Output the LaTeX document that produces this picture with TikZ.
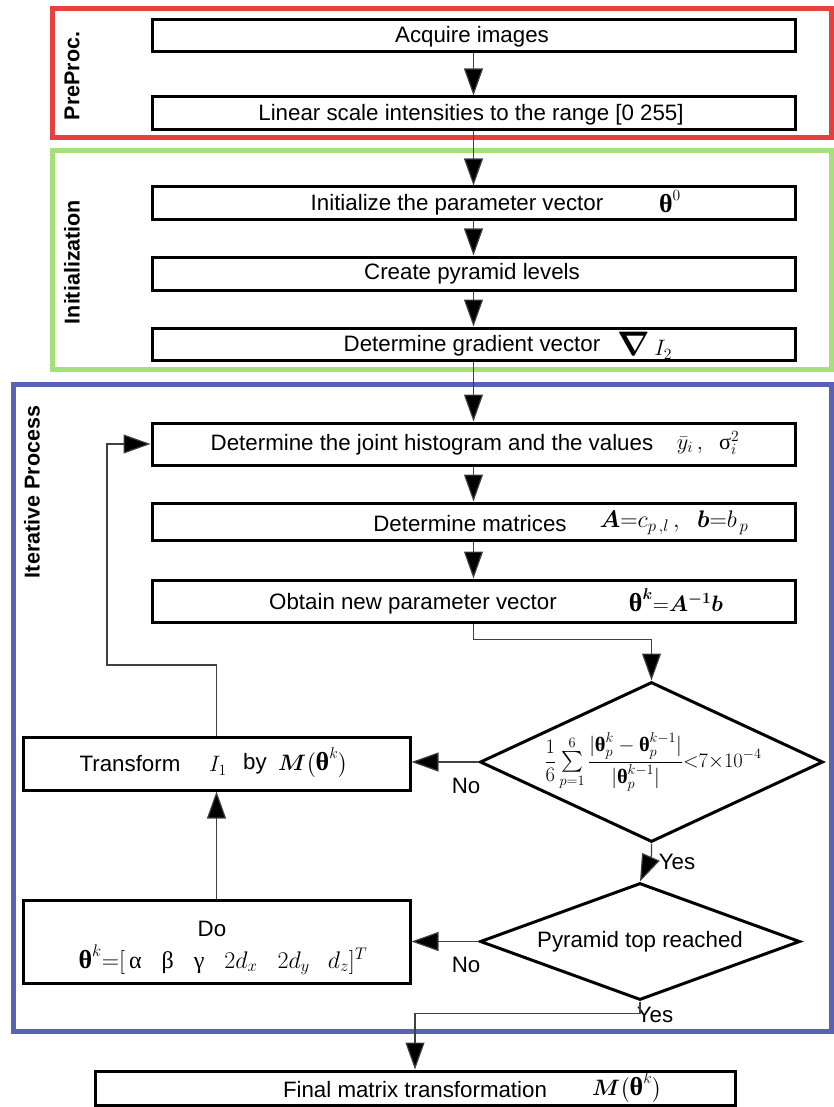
\RequirePackage{fix-cm}
\documentclass[tikz,border=0pt]{standalone}
\usepackage{amsmath}
\usepackage{bm}
\usepackage{fontspec}
\setmainfont{Liberation Sans}
\newfontfamily\symf{Liberation Serif}
\usetikzlibrary{arrows.meta,shapes.geometric}
\newcommand\thb{\mbox{\symf\bfseries\fontsize{26}{26}\selectfont θ}}
\newcommand\ths{\mbox{\symf\bfseries θ}}
\newcommand\gr[1]{\mbox{\symf #1}}
\definecolor{fred}{HTML}{E8403F}
\definecolor{fgreen}{HTML}{A6E07A}
\definecolor{fblue}{HTML}{5A62B6}
\begin{document}
\begin{tikzpicture}[x=1pt,y=-1pt,
  box/.style={draw, line width=3pt, inner sep=0pt},
  txt/.style={font=\fontsize{22.3}{25}\selectfont, inner sep=0pt, anchor=center},
  lab/.style={font=\fontsize{21.5}{24}\selectfont\bfseries, inner sep=0pt, rotate=90},
  frame/.style={line width=5pt},
  conn/.style={line width=1.2pt, draw=black!75, -{Triangle[length=27pt,width=19pt,fill=black]}},
  dia/.style={diamond, draw, line width=3pt, inner sep=0pt}
]
\useasboundingbox (0,0) rectangle (834,1107);
% frames
\draw[frame, fred] (52,9) rectangle (831,138);
\draw[frame, fgreen] (52,151) rectangle (831,369);
\draw[frame, fblue] (13,384) rectangle (831,1031);
\node[lab] (lpre) at (72,76) {PreProc.};
\node[lab] (linit) at (72,262) {Initialization};
\node[lab] (liter) at (32,492) {Iterative Process};
% boxes
\node[box, minimum width=643pt, minimum height=32pt] (b1) at (473.5,36) {};
\node[box, minimum width=643pt, minimum height=33pt] (b2) at (473.5,113.5) {};
\node[box, minimum width=643pt, minimum height=33pt] (b3) at (473.5,203.5) {};
\node[box, minimum width=643pt, minimum height=33pt] (b4) at (473.5,273.5) {};
\node[box, minimum width=643pt, minimum height=32pt] (b5) at (473.5,344) {};
\node[box, minimum width=643pt, minimum height=42pt] (b6) at (473.5,444) {};
\node[box, minimum width=643pt, minimum height=37pt] (b7) at (473.5,521.5) {};
\node[box, minimum width=643pt, minimum height=42pt] (b8) at (473.5,601) {};
\node[box, minimum width=387pt, minimum height=53pt] (b9) at (216.5,763.5) {};
\node[box, minimum width=387pt, minimum height=83pt] (b10) at (216.5,941.5) {};
\node[box, minimum width=640pt, minimum height=34pt] (fin) at (415,1088) {};
\node[dia, minimum width=343pt, minimum height=160pt] (d1) at (651.5,762) {};
\node[dia, minimum width=320pt, minimum height=117pt] (d2) at (640,941.5) {};
% texts
\node[txt] (t1) at (472,37) {Acquire images};
\node[txt] (t2) at (471,115) {Linear scale intensities to the range [0 255]};
\node[txt] (t3) at (457,205) {Initialize the parameter vector};
\node[txt] (m3) at (670,202) {$\thb^{0}$};
\node[txt] (t4) at (472,274) {Create pyramid levels};
\node[txt] (t5) at (472,346) {Determine gradient vector};
\node[txt] (m5) at (645,346) {{\fontsize{34}{34}\selectfont$\boldsymbol{\nabla}$}\,$I_{2}$};
\node[txt] (t6) at (432,445) {Determine the joint histogram and the values};
\node[txt] (m6) at (708,443) {$\bar{y}_{i}\,,\;\;\gr{σ}_{i}^{2}$};
\node[txt, font=\fontsize{24}{26}\selectfont] (m7) at (674,523) {$\bm{A}{=}c_{p\,,l}\,,\;\;\bm{b}{=}b_{\,p}$};
\node[txt] (t7) at (470,524) {Determine matrices};
\node[txt] (t8) at (413,604) {Obtain new parameter vector};
\node[txt] (m8) at (676,600) {$\thb^{\bm{k}}{=}\bm{A}^{\bm{-1}}\bm{b}$};
\node[txt] (t9) at (130,764) {Transform};
\node[txt] (m9a) at (218,766) {$I_{1}$};
\node[txt] (t9b) at (255,764) {by};
\node[txt] (m9b) at (313,763) {$\bm{M}\big(\thb^{k}\big)$};
\node[txt] (t10) at (212,929) {Do};
\node[txt, font=\fontsize{24}{26}\selectfont] (m10) at (223,960) {$\thb^{k}{=}[\,\gr{α}\hspace{20pt}\gr{β}\hspace{20pt}\gr{γ}\hspace{20pt}2d_{x}\hspace{20pt}2d_{y}\hspace{18pt}d_{z}]^{T}$};
\node[txt, font=\fontsize{20.5}{23}\selectfont] (md1) at (653,762) {$\displaystyle\frac{1}{6}\,{\textstyle\sum\limits_{p=1}^{6}}\,\frac{|\ths_{p}^{k}-\ths_{p}^{k-1}|}{|\ths_{p}^{k-1}|}{<}7{\times}10^{-4}$};
\node[txt] (td2) at (640,942) {Pyramid top reached};
\node[txt] (tf) at (415,1090) {Final matrix transformation};
\node[txt] (mf) at (627,1088) {$\bm{M}\big(\thb^{k}\big)$};
% connector labels
\node[txt] (no1) at (466,786) {No};
\node[txt] (yes1) at (677,862) {Yes};
\node[txt] (no2) at (466,965) {No};
\node[txt] (yes2) at (655,1015) {Yes};
% connectors
\draw[conn] (b1) -- (b2);
\draw[conn] (b2) -- (b3);
\draw[conn] (b3) -- (b4);
\draw[conn] (b4) -- (b5);
\draw[conn] (b5) -- (b6);
\draw[conn] (b6) -- (b7);
\draw[conn] (b7) -- (b8);
\draw[conn] (b8.south) -- ++(0,16) -| (d1.north);
\draw[conn] (d1.west) -- (d1.west -| b9.east);
\draw[conn] (d1.south) -- ++(0,12) -- (d2.north);
\draw[conn] (d2.west) -- (d2.west -| b10.east);
\draw[conn] (b10.north) -- (b9.south);
\coordinate (loop) at (107,665);
\draw[conn] (b9.north) |- (loop) |- (b6.west);
\draw[conn] (d2.south) -- ++(0,12) -| (fin.north);
\end{tikzpicture}
\end{document}
